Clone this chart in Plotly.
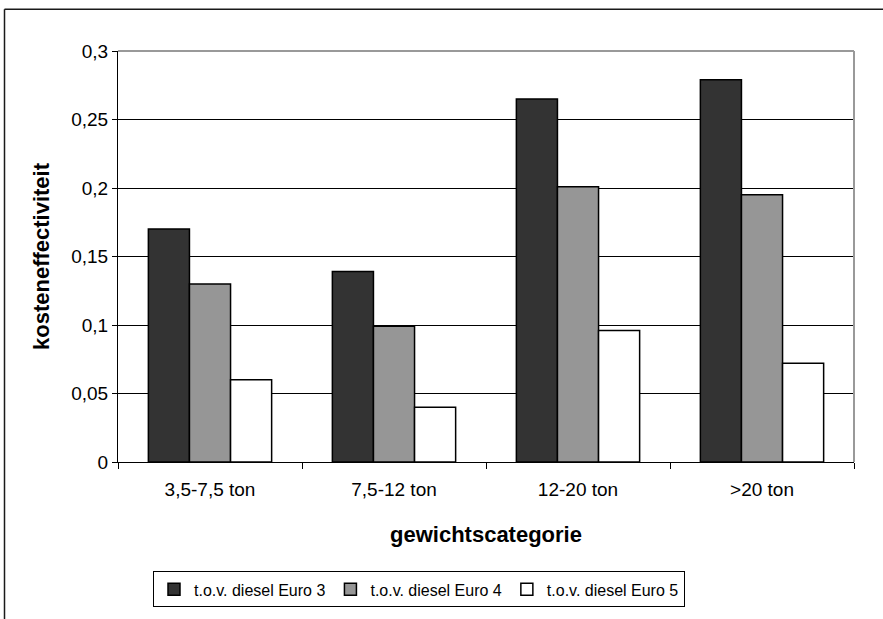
import plotly.graph_objects as go

categories = ["3,5-7,5 ton", "7,5-12 ton", "12-20 ton", ">20 ton"]
euro3 = [0.170, 0.139, 0.265, 0.279]
euro4 = [0.130, 0.099, 0.201, 0.195]
euro5 = [0.060, 0.040, 0.096, 0.072]
series_names = ["t.o.v. diesel Euro 3", "t.o.v. diesel Euro 4", "t.o.v. diesel Euro 5"]
series_colors = ["#333333", "#969696", "#ffffff"]
y_tickvals = [0, 0.05, 0.1, 0.15, 0.2, 0.25, 0.3]
y_ticktext = ["0", "0,05", "0,1", "0,15", "0,2", "0,25", "0,3"]

FONT = "Liberation Sans, Arial, sans-serif"

fig = go.Figure()
for name, vals, col in zip(series_names, [euro3, euro4, euro5], series_colors):
    fig.add_trace(go.Bar(
        x=categories, y=vals, name=name,
        marker=dict(color=col, line=dict(color="#000000", width=1.5)),
    ))

W, H = 883, 619
L, R, T, B = 118, 854, 51, 464
pw, ph = R - L, B - T

def px_x(p):
    return (p - L) / pw

def px_y(p):
    return (B - p) / ph

fig.update_layout(
    width=W, height=H,
    margin=dict(l=L, r=W - R, t=T, b=H - B),
    paper_bgcolor="white", plot_bgcolor="white",
    barmode="group", bargap=0.33, bargroupgap=0,
    font=dict(family=FONT, size=16, color="#000000"),
    showlegend=True,
    legend=dict(
        orientation="h", x=px_x(153), y=px_y(574),
        xanchor="left", yanchor="top",
        bordercolor="#000000", borderwidth=1,
        font=dict(size=16), itemwidth=30,
        traceorder="normal",
    ),
    xaxis=dict(
        showline=True, linecolor="#000000", linewidth=1,
        ticks="outside", ticklen=6, tickcolor="#000000",
        tickson="boundaries", showgrid=False,
        ticklabelstandoff=10,
        title=dict(text="<b>gewichtscategorie</b>", font=dict(size=22), standoff=27),
        tickfont=dict(size=19),
    ),
    yaxis=dict(
        range=[0, 0.3], tickvals=y_tickvals, ticktext=y_ticktext,
        showline=True, linecolor="#000000", linewidth=1,
        ticks="outside", ticklen=5, tickcolor="#000000",
        showgrid=True, gridcolor="#000000", gridwidth=1,
        zeroline=False,
        title=dict(text="<b>kosteneffectiviteit</b>", font=dict(size=22), standoff=15),
        tickfont=dict(size=19),
    ),
    shapes=[
        # grey frame around the plotting area (top and right edges)
        dict(type="line", xref="paper", yref="paper", x0=0, x1=1, y0=1, y1=1,
             line=dict(color="#999999", width=2), layer="above"),
        dict(type="line", xref="paper", yref="paper", x0=1, x1=1, y0=0, y1=1,
             line=dict(color="#999999", width=2), layer="above"),
        # outer chart frame
        dict(type="line", xref="paper", yref="paper",
             x0=px_x(4.5), x1=px_x(900), y0=px_y(9), y1=px_y(9),
             line=dict(color="#1a1a1a", width=1.5)),
        dict(type="line", xref="paper", yref="paper",
             x0=px_x(4.5), x1=px_x(4.5), y0=px_y(9), y1=px_y(630),
             line=dict(color="#1a1a1a", width=1.5)),
    ],
)

fig.write_html("out.html")
